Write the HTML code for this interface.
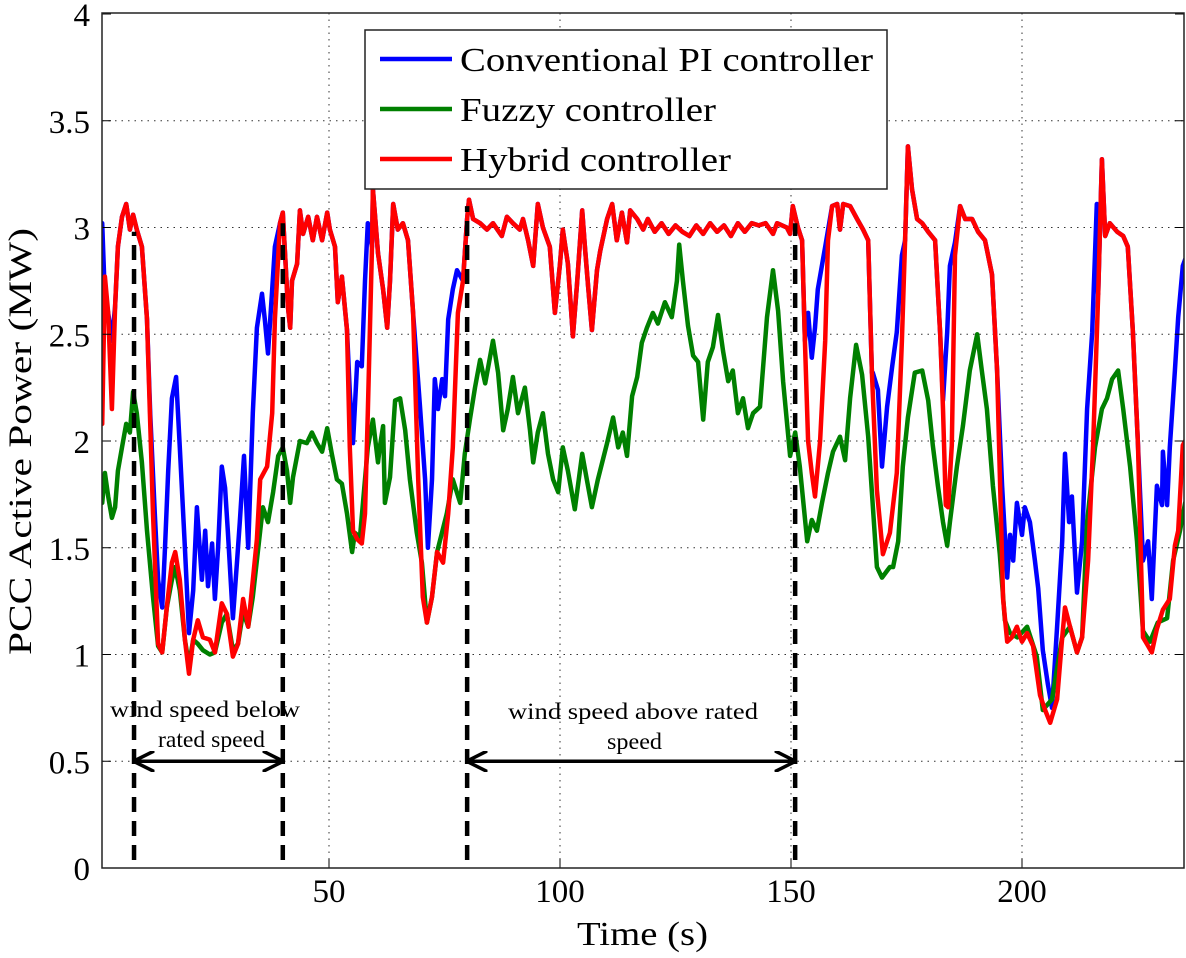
<!DOCTYPE html>
<html><head><meta charset="utf-8"><style>
html,body{margin:0;padding:0;background:#fff;}
svg text{font-family:"Liberation Serif",serif;fill:#000;}
</style></head><body>
<svg id="chart" width="1186" height="953" xmlns="http://www.w3.org/2000/svg">
<g id="grid"></g>
<g id="series"></g>
<g id="annot"></g>
<g id="axes"></g>
<text x="577" y="945" font-size="34" textLength="131" lengthAdjust="spacingAndGlyphs">Time (s)</text>
<text transform="translate(31,655) rotate(-90)" font-size="33" textLength="427" lengthAdjust="spacingAndGlyphs">PCC Active Power (MW)</text>
<g>
<rect x="365" y="30" width="522" height="159" fill="#fff" stroke="#222" stroke-width="1.5"/>
<line x1="380" y1="59" x2="452" y2="59" stroke="#0000ff" stroke-width="4.5"/>
<text x="460" y="71" font-size="34" textLength="413" lengthAdjust="spacingAndGlyphs">Conventional PI controller</text>
<line x1="380" y1="109" x2="452" y2="109" stroke="#008000" stroke-width="4.5"/>
<text x="460" y="121" font-size="34" textLength="256" lengthAdjust="spacingAndGlyphs">Fuzzy controller</text>
<line x1="380" y1="159" x2="452" y2="159" stroke="#ff0000" stroke-width="4.5"/>
<text x="460" y="171" font-size="34" textLength="271" lengthAdjust="spacingAndGlyphs">Hybrid controller</text>
</g>
<text x="110" y="717" font-size="23" textLength="190" lengthAdjust="spacingAndGlyphs">wind speed below</text>
<text x="158" y="747" font-size="23" textLength="107" lengthAdjust="spacingAndGlyphs">rated speed</text>
<text x="508" y="719" font-size="23" textLength="250" lengthAdjust="spacingAndGlyphs">wind speed above rated</text>
<text x="607" y="749" font-size="23" textLength="55" lengthAdjust="spacingAndGlyphs">speed</text>
</svg>
<script>
const xTicks=[50,100,150,200];
const yTicks=[0,0.5,1,1.5,2,2.5,3,3.5,4];
const yTickLabels=["0","0.5","1","1.5","2","2.5","3","3.5","4"];
const redT=[0.9,1.5,2.2,3.0,3.7,4.3,5.2,6.1,6.9,7.6,8.4,9.5,10.6,11.9,13.0,13.9,14.9,16.0,16.7,17.7,18.8,19.7,20.6,21.6,22.7,24.2,25.3,26.8,27.9,29.2,30.3,31.4,32.5,34.4,35.1,36.6,37.7,38.3,39.4,40.0,41.1,41.6,42.0,43.1,43.7,44.4,45.5,46.5,47.4,48.5,49.6,50.2,51.3,51.9,52.8,53.9,54.5,55.2,56.1,57.1,57.8,58.4,59.3,59.5,60.6,61.7,62.6,63.2,63.9,64.9,66.0,67.1,68.2,69.3,70.3,71.2,72.3,73.4,74.7,75.8,76.8,77.9,79.0,79.9,80.3,81.2,82.7,84.2,85.5,87.4,88.5,89.8,91.3,92.0,93.1,94.2,95.2,96.3,97.8,98.9,100.0,100.6,101.7,102.8,103.7,104.8,105.4,106.1,106.9,108.0,108.7,110.2,111.3,112.3,113.4,114.5,115.2,116.7,118.0,119.0,120.5,122,123.5,125,126.5,128,129.5,131,132.5,134,135.5,137,138.5,140,141.5,143,144.5,146.1,147.0,149.1,149.8,150.4,151.5,152.4,153.0,153.7,154.5,155.2,156.3,157.4,158.0,158.9,160.0,160.6,161.3,162.8,164.3,165.6,166.7,167.5,168.6,169.9,171.4,172.9,174.0,174.7,175.3,176.2,177.3,178.4,179.7,181.2,182.3,182.9,183.5,184.0,184.8,185.5,186.6,187.7,189.2,190.5,192.0,193.5,194.6,195.9,196.8,197.8,198.9,200.0,201.1,202.4,203.9,205.0,206.1,207.6,208.7,209.3,210.4,211.9,213.0,214.3,215.4,216.5,217.3,218.0,219.0,220.6,221.9,222.9,224.0,225.1,226.2,227.3,228.1,229.2,230.5,232.0,233.1,233.8,234.8,235.3];
const redV=[2.08,2.77,2.60,2.15,2.63,2.91,3.05,3.11,2.99,3.06,2.99,2.91,2.57,1.66,1.05,1.01,1.22,1.43,1.48,1.35,1.07,0.91,1.07,1.16,1.08,1.07,1.01,1.24,1.19,0.99,1.05,1.26,1.13,1.54,1.82,1.88,2.13,2.57,3.02,3.07,2.63,2.53,2.75,2.83,3.08,2.97,3.05,2.94,3.05,2.94,3.07,2.99,2.91,2.65,2.77,2.52,1.97,1.58,1.54,1.52,1.66,2.13,2.91,3.18,2.88,2.71,2.53,2.75,3.11,2.99,3.02,2.94,2.60,1.82,1.27,1.15,1.27,1.48,1.43,1.66,1.97,2.60,2.75,3.04,3.13,3.04,3.02,2.99,3.02,2.96,3.05,3.02,2.99,3.04,2.94,2.82,3.11,3.00,2.91,2.60,2.83,2.99,2.83,2.49,2.74,3.08,2.91,2.72,2.52,2.80,2.89,3.04,3.11,2.94,3.07,2.93,3.08,3.04,2.99,3.04,2.98,3.02,2.97,3.01,2.98,2.96,3.01,2.97,3.02,2.98,3.01,2.96,3.02,2.98,3.02,3.01,3.02,2.97,3.02,3.00,2.97,3.10,3.00,2.94,2.47,2.00,1.85,1.74,2.00,2.47,2.94,3.10,3.11,2.99,3.11,3.10,3.04,2.99,2.94,2.32,1.77,1.47,1.57,1.85,2.47,2.94,3.38,3.18,3.04,3.02,2.98,2.94,2.50,2.15,1.70,1.69,1.98,2.87,3.10,3.04,3.04,2.98,2.94,2.78,2.33,1.26,1.06,1.08,1.13,1.06,1.10,1.04,0.81,0.74,0.68,0.79,1.08,1.22,1.13,1.01,1.08,1.44,1.98,2.69,3.32,2.96,3.02,2.98,2.96,2.91,2.51,1.98,1.08,1.04,1.01,1.12,1.21,1.26,1.51,1.58,1.98,2.0];
// Blue (PI) follows red except in these segments
const blueSegStart=[0.5,54.0,68.5,153.4,167.6,182.5,194.7,224.5];
const blueSegEnd=[39.5,58.8,78.0,158.1,174.6,186.0,216.3,236];
const blueSegT=[
[0.9,1.5,2.2,3.0,3.7,4.3,5.2,6.1,6.9,7.6,8.4,9.5,10.6,11.3,12.3,13.0,13.9,14.5,15.2,16.0,16.9,17.7,18.8,19.7,20.6,21.4,22.5,23.2,23.8,24.7,25.3,26.0,26.8,27.5,28.1,29.2,30.1,30.7,31.6,32.5,33.5,34.4,35.5,36.1,36.8,37.7,38.3,39.4],
[54.5,55.2,56.1,57.1,57.8,58.4],
[69.7,70.8,71.4,72.3,72.9,73.6,74.5,75.1,75.8,76.8,77.7],
[153.7,154.5,155.2,155.8,157.4],
[167.7,168.8,169.7,170.8,171.9,172.9,174.0],
[182.9,183.8,184.4,185.5],
[195.7,196.8,197.4,198.1,198.9,200.0,200.6,201.7,202.8,203.5,204.5,205.6,206.5,207.6,208.7,209.3,210.2,210.8,211.9,213.0,214.1,215.2,216.2],
[225.1,226.2,227.3,228.1,229.2,230.3,230.5,231.4,232.0,233.1,233.8,234.8,235.3]];
const blueSegV=[
[3.02,2.67,2.60,2.47,2.63,2.91,3.05,3.11,2.99,3.06,2.99,2.91,2.57,2.13,1.66,1.35,1.22,1.50,1.86,2.20,2.30,1.97,1.50,1.10,1.30,1.69,1.35,1.58,1.32,1.52,1.26,1.50,1.88,1.78,1.58,1.17,1.44,1.62,1.93,1.50,2.13,2.53,2.69,2.57,2.41,2.71,2.91,3.02],
[2.23,1.99,2.37,2.35,2.75,3.02],
[2.16,1.82,1.50,1.82,2.29,2.15,2.29,2.21,2.57,2.71,2.80],
[2.60,2.39,2.53,2.71,2.91],
[2.32,2.24,1.88,2.16,2.35,2.51,2.87],
[2.19,2.51,2.82,2.93],
[1.79,1.36,1.56,1.44,1.71,1.56,1.69,1.62,1.44,1.31,1.02,0.86,0.75,1.13,1.53,1.94,1.62,1.74,1.29,1.53,2.15,2.51,3.11],
[1.98,1.44,1.53,1.26,1.79,1.70,1.95,1.70,1.97,2.33,2.58,2.82,2.85]];
const greenT=[0.9,1.5,2.2,3.0,3.7,4.3,5.2,6.1,6.9,7.6,8.4,9.5,10.6,11.9,13.0,13.9,14.9,16.0,16.7,17.7,18.8,19.7,20.6,21.6,22.7,24.2,25.3,26.8,27.9,29.2,30.3,31.4,32.5,33.5,35.1,35.7,36.8,37.9,39.0,40.0,40.9,41.6,42.2,43.7,45.2,46.3,47.4,48.5,49.6,50.6,51.7,52.8,53.9,55.0,55.6,56.7,57.8,58.4,59.5,60.6,61.0,61.7,62.1,63.2,64.3,65.4,66.5,67.5,69.0,70.1,71.2,72.3,73.4,75.5,76.8,78.4,79.4,80.5,81.6,82.7,83.8,85.5,86.6,87.7,88.7,89.8,90.9,92.4,93.5,94.2,95.2,96.3,97.4,98.5,99.6,100.6,101.7,103.2,104.8,105.8,106.9,108.2,110.2,111.5,112.6,113.6,114.5,115.6,116.7,117.7,118.8,120.1,121.2,122.7,124.2,125.3,125.8,126.6,127.7,128.8,129.9,131.0,132.0,133.1,134.2,135.3,136.4,137.4,138.5,139.6,140.7,141.8,143.3,144.8,146.1,147.2,148.3,149.8,150.9,151.9,153.5,154.5,155.6,156.7,158.0,159.1,160.6,161.7,162.8,164.1,165.4,166.7,167.5,168.6,169.7,171.4,172.1,173.2,174.2,175.3,176.8,178.4,179.7,180.7,181.8,182.9,183.8,184.4,185.9,187.2,188.7,190.3,191.3,192.4,193.7,195.2,196.3,197.4,199.0,201.1,203.2,204.5,206.5,208.7,210.4,211.9,213.0,214.1,215.8,217.3,218.4,219.5,220.8,221.9,223.4,224.9,226.2,227.7,229.4,231.4,232.7,234.2,235.3];
const greenV=[1.71,1.85,1.74,1.64,1.69,1.86,1.97,2.08,2.04,2.23,2.13,1.90,1.58,1.27,1.04,1.01,1.22,1.35,1.41,1.30,1.07,0.95,1.07,1.05,1.02,1.00,1.01,1.15,1.19,1.02,1.05,1.20,1.13,1.27,1.58,1.69,1.62,1.76,1.93,1.97,1.86,1.71,1.83,2.00,1.99,2.04,1.99,1.95,2.06,1.94,1.82,1.80,1.66,1.48,1.57,1.55,1.82,1.97,2.10,1.90,1.97,2.07,1.71,1.83,2.19,2.20,2.05,1.82,1.57,1.43,1.15,1.27,1.48,1.66,1.82,1.71,1.94,2.10,2.25,2.38,2.27,2.47,2.32,2.05,2.15,2.30,2.13,2.25,2.05,1.90,2.04,2.13,1.94,1.82,1.76,1.97,1.86,1.68,1.94,1.82,1.69,1.82,1.99,2.11,1.97,2.04,1.93,2.21,2.30,2.46,2.53,2.60,2.55,2.65,2.58,2.75,2.92,2.75,2.54,2.40,2.37,2.10,2.37,2.44,2.59,2.42,2.28,2.33,2.13,2.20,2.06,2.13,2.16,2.58,2.80,2.61,2.28,1.93,2.04,1.88,1.53,1.63,1.58,1.71,1.85,1.95,2.02,1.91,2.20,2.45,2.31,2.02,1.76,1.41,1.36,1.41,1.41,1.53,1.88,2.11,2.32,2.33,2.19,1.98,1.79,1.62,1.51,1.62,1.88,2.07,2.33,2.50,2.33,2.15,1.79,1.47,1.16,1.10,1.08,1.13,0.99,0.74,0.79,1.08,1.13,1.01,1.08,1.62,1.97,2.15,2.20,2.29,2.33,2.15,1.88,1.53,1.11,1.06,1.15,1.17,1.44,1.58,1.71];
const dashT=[7.8,40.0,79.9,150.9];
const dashTopV=[2.98,3.02,3.1,3.02];
const arrowFrom=[7.8,79.9];
const arrowTo=[40.0,150.9];
const arrowV=0.5;

const X0=98, XS=4.62, Y0=868, YS=213.5, L=102, R=1184, T=13, B=868;
const sx=t=>X0+t*XS, sy=v=>Y0-v*YS;
const NS="http://www.w3.org/2000/svg";
function mk(tag,attrs,parent){const e=document.createElementNS(NS,tag);for(const k in attrs)e.setAttribute(k,attrs[k]);parent.appendChild(e);return e;}
const grid=document.getElementById('grid'),axes=document.getElementById('axes'),ser=document.getElementById('series'),ann=document.getElementById('annot');
mk('defs',{},document.getElementById('chart')).innerHTML='<clipPath id="clip"><rect x="102" y="13" width="1082" height="855"/></clipPath><marker id="ah" markerWidth="6" markerHeight="6" refX="5" refY="3" orient="auto-start-reverse" markerUnits="strokeWidth"><path d="M0,0 L6,3 L0,6" fill="none" stroke="#000" stroke-width="1"/></marker>';
ser.setAttribute('clip-path','url(#clip)');
xTicks.forEach((t,i)=>{
 const g=mk('line',{x1:sx(t),x2:sx(t),y1:T,y2:B,stroke:'#333','stroke-width':1,'stroke-dasharray':'1.5,5'},grid);
 
 
 const tk=mk('text',{x:sx(t),y:B+34,'font-size':33,'text-anchor':'middle'},axes);
 tk.textContent=String(t);
 
 
 mk('line',{x1:sx(t),x2:sx(t),y1:B,y2:B-9,stroke:'#000','stroke-width':1},axes);
});
yTicks.forEach((v,i)=>{
 if(v>0&&v<4){const g=mk('line',{x1:L,x2:R,y1:sy(v),y2:sy(v),stroke:'#333','stroke-width':1,'stroke-dasharray':'1.5,5'},grid);
 
 }
 const tk=mk('text',{x:90,y:sy(v)+12,'font-size':33,'text-anchor':'end'},axes);
 tk.textContent=yTickLabels[i];
 
 
 mk('line',{x1:L,x2:L+9,y1:sy(v),y2:sy(v),stroke:'#000','stroke-width':1},axes);
 mk('line',{x1:R,x2:R-9,y1:sy(v),y2:sy(v),stroke:'#000','stroke-width':1},axes);
});
const box=mk('rect',{x:L,y:T,width:R-L,height:B-T,fill:'none',stroke:'#222','stroke-width':1.5},axes);


let bT=[],bV=[];
redT.forEach((t,i)=>{let inSeg=false;blueSegStart.forEach((s,j)=>{if(t>=s&&t<=blueSegEnd[j])inSeg=true;});if(!inSeg){bT.push(t);bV.push(redV[i]);}});
blueSegT.forEach((arr,j)=>arr.forEach((t,k)=>{bT.push(t);bV.push(blueSegV[j][k]);}));
const idx=bT.map((t,i)=>i).sort((a,b)=>bT[a]-bT[b]);
const blueT=idx.map(i=>bT[i]),blueV=idx.map(i=>bV[i]);
function line(T_,V_,color,name){
 const p=mk('polyline',{points:T_.map((t,i)=>sx(t).toFixed(1)+','+sy(V_[i]).toFixed(1)).join(' '),fill:'none',stroke:color,'stroke-width':4.5,'stroke-linejoin':'round','stroke-linecap':'round'},ser);
 
 
}
line(blueT,blueV,'#0000ff','series-conventional-pi');
line(greenT,greenV,'#008000','series-fuzzy');
line(redT,redV,'#ff0000','series-hybrid');
dashT.forEach((t,i)=>{
 const d=mk('line',{x1:sx(t),x2:sx(t),y1:B-8,y2:sy(dashTopV[i]),stroke:'#000','stroke-width':4.5,'stroke-dasharray':'15,9'},ann);
 
 
});
arrowFrom.forEach((f,i)=>{
 const a=mk('line',{x1:sx(f)+3,x2:sx(arrowTo[i])-3,y1:sy(arrowV),y2:sy(arrowV),stroke:'#000','stroke-width':3.5,'marker-start':'url(#ah)','marker-end':'url(#ah)'},ann);
 
 
});
</script>
</body></html>
